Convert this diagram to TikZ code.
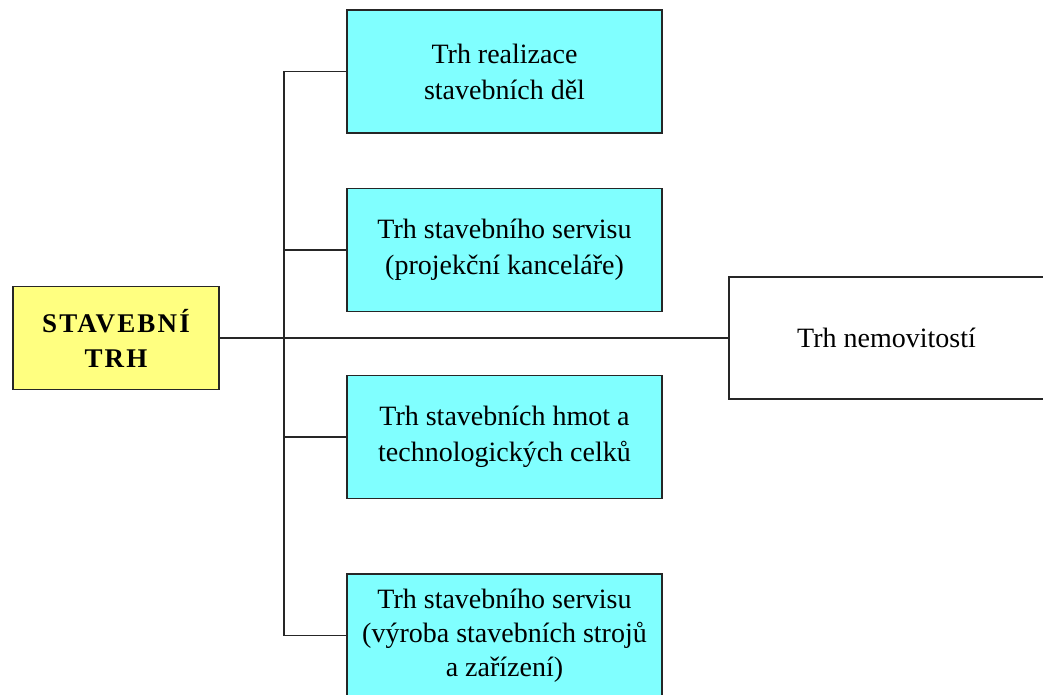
\documentclass[tikz,border=0pt]{standalone}
\usepackage{fontspec}
\setmainfont{Liberation Serif}
\definecolor{boxcyan}{HTML}{80FFFF}
\definecolor{boxyellow}{HTML}{FFFF80}
\tikzset{
  base/.style={draw=black!85, line width=1.6pt, inner sep=0pt, align=center,
    font=\fontsize{28}{36}\selectfont},
  cbox/.style={base, fill=boxcyan, minimum width=315pt, minimum height=123pt},
  ybox/.style={base, fill=boxyellow, minimum width=206pt, minimum height=103pt,
    font=\fontsize{27}{35}\selectfont\bfseries\addfontfeature{LetterSpace=8}},
  wbox/.style={base, fill=white, minimum width=315pt, minimum height=122pt},
  conn/.style={draw=black!85, line width=1.5pt}
}
\begin{document}
\begin{tikzpicture}[x=1pt,y=-1pt]
\useasboundingbox (0,0) rectangle (1043,695);
\clip (0,0) rectangle (1043,695);
\node[ybox] (main) at (116,338) {STAVEBNÍ\\TRH};
\node[cbox] (b1) at (504.5,71.5) {Trh realizace\\ stavebních děl};
\node[cbox] (b2) at (504.5,250) {Trh stavebního servisu\\(projekční kanceláře)};
\node[cbox] (b3) at (504.5,437) {Trh stavebních hmot a\\technologických celků};
\node[cbox, font=\fontsize{28}{34}\selectfont] (b4) at (504.5,635.5) {Trh stavebního servisu\\(výroba stavebních strojů\\a zařízení)};
\node[wbox] (nem) at (886.5,338) {Trh nemovitostí};
\coordinate (trunk) at (284,338);
\draw[conn] (main.east) -- (nem.west);
\draw[conn] (b1.west) -- (b1.west -| trunk) |- (b4.west);
\draw[conn] (b2.west) -- (b2.west -| trunk);
\draw[conn] (b3.west) -- (b3.west -| trunk);
\end{tikzpicture}
\end{document}
